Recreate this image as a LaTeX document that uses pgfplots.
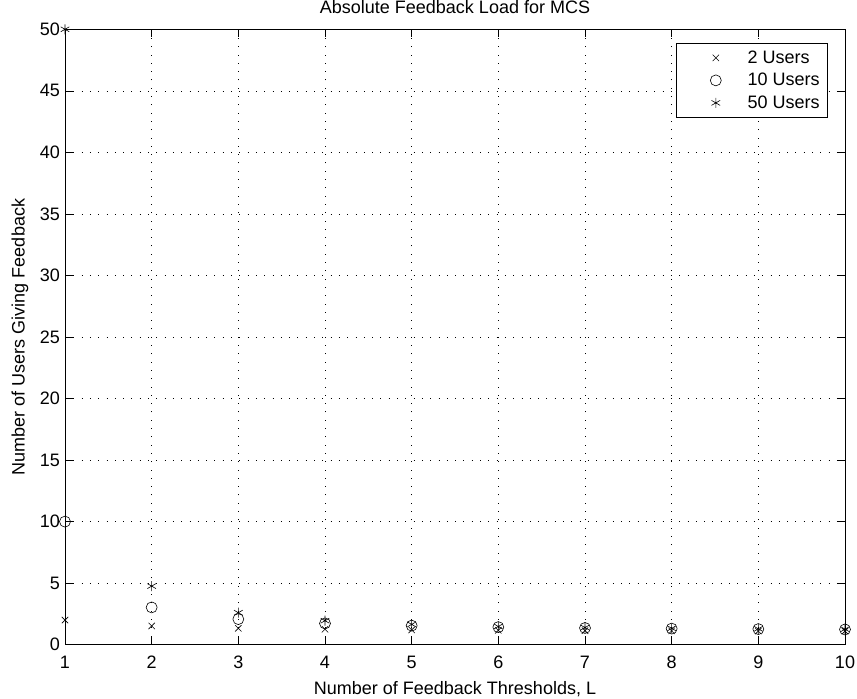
\documentclass[border=0pt]{standalone}
\usepackage{fontspec}
\setmainfont{Liberation Sans}
\usepackage{pgfplots}
\pgfplotsset{compat=1.18}
\begin{document}
\begin{tikzpicture}
\begin{axis}[
  scale only axis,
  width=780pt, height=615.4pt,
  xmin=1, xmax=10, ymin=0, ymax=50,
  xtick={1,2,...,10}, ytick={0,5,...,50},
  font=\fontsize{18}{21.6}\selectfont,
  /pgf/number format/assume math mode=true,
  clip=false,
  grid=major,
  grid style={black, line width=0.6pt, dash pattern=on 0.8pt off 7.5pt},
  tick align=inside,
  major tick length=8pt,
  tick style={black, line width=0.6pt},
  axis line style={black, line width=0.9pt},
  xticklabel style={anchor=base, yshift=-24pt, inner sep=0pt},
  yticklabel style={anchor=east, xshift=-5pt, inner sep=0pt},
  title={Absolute Feedback Load for MCS},
  title style={at={(axis description cs:0.5,1.0156)}, anchor=base, inner sep=0pt},
  xlabel={Number of Feedback Thresholds, L},
  xlabel style={at={(axis description cs:0.5,-0.0812)}, anchor=base, inner sep=0pt},
  ylabel={Number of Users Giving Feedback},
  ylabel style={at={(axis description cs:-0.0519,0.5)}, anchor=base, inner sep=0pt},
  legend style={at={(axis description cs:0.978,0.978)}, anchor=north east,
    draw=black, line width=0.6pt, fill=white, font=\fontsize{18}{21.6}\selectfont,
    row sep=0pt, inner xsep=0pt, inner ysep=3.5pt,
    nodes={inner sep=0pt},
    /tikz/every even column/.append style={column sep=0pt}},
  legend cell align=left,
  legend image code/.code={%
    \path[draw=none, fill=none] (0pt,-11.25pt) rectangle (71.7pt,11.25pt);
    \draw[#1] plot coordinates {(40pt,0pt)};},
]
\addplot[only marks, mark=x, mark size=4.5pt, black, line width=0.6pt] coordinates {
(1,2.0) (2,1.52) (3,1.33) (4,1.25) (5,1.2) (6,1.17) (7,1.14) (8,1.125) (9,1.11) (10,1.1)};
\addlegendentry{2 Users\hspace*{8pt}}
\addplot[only marks, mark=o, mark size=5.5pt, black, line width=0.6pt] coordinates {
(1,10.0) (2,3.03) (3,2.08) (4,1.73) (5,1.55) (6,1.43) (7,1.36) (8,1.31) (9,1.27) (10,1.24)};
\addlegendentry{10 Users\hspace*{8pt}}
\addplot[only marks, mark=asterisk, mark size=5pt, black, line width=0.6pt] coordinates {
(1,50.0) (2,4.76) (3,2.6) (4,1.95) (5,1.65) (6,1.48) (7,1.39) (8,1.33) (9,1.29) (10,1.26)};
\addlegendentry{50 Users\hspace*{8pt}}
\coordinate (ll) at (rel axis cs:0,0);
\coordinate (ur) at (rel axis cs:1,1);
\end{axis}
\pgfresetboundingbox
\path ([shift={(-65pt,-54.3pt)}]ll) rectangle ([shift={(12pt,29.3pt)}]ur);
\end{tikzpicture}
\end{document}
